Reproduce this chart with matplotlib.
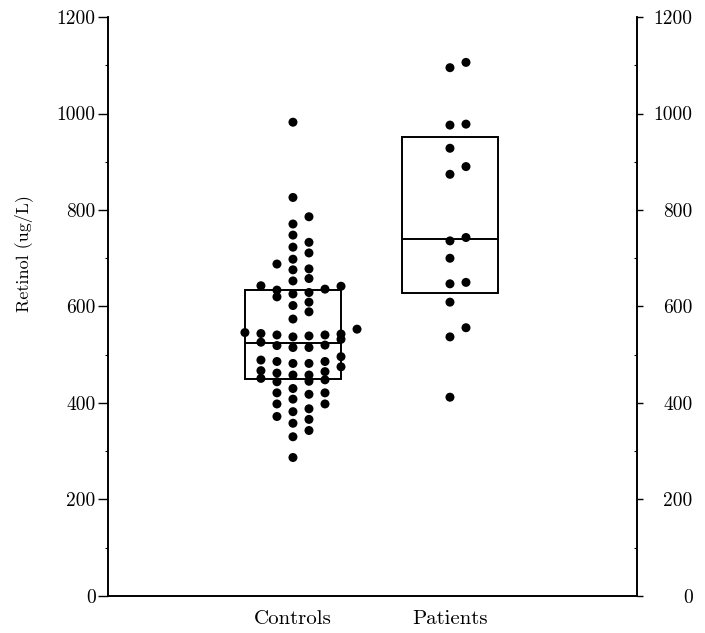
import matplotlib
matplotlib.use("Agg")
import matplotlib.pyplot as plt
from matplotlib.patches import Rectangle

plt.rcParams["font.family"] = ["cmr10", "DejaVu Serif"]
plt.rcParams["axes.formatter.use_mathtext"] = True

# values, grouped by the dot column they sit in
# (column 0 = group centre, +/-1 = one dot width to the right/left)
CONTROLS = {
    -3: [546],
    -2: [643, 544, 526, 489, 467, 451],
    -1: [688, 634, 620, 541, 519, 486, 462, 444, 421, 398, 372],
    0: [982, 826, 771, 748, 723, 698, 676, 653, 626, 602, 574, 537, 515,
        482, 458, 430, 408, 382, 358, 330, 287],
    1: [786, 733, 711, 678, 658, 629, 609, 589, 539, 515, 482, 458, 445,
        418, 388, 366, 343],
    2: [636, 541, 520, 486, 465, 448, 421, 398],
    3: [642, 543, 532, 496, 475],
    4: [553],
}
PATIENTS = {
    0: [1095, 976, 928, 874, 736, 700, 647, 609, 537, 412],
    1: [1106, 978, 890, 743, 650, 556],
}

groups = ["Controls", "Patients"]
box_q1 = [450, 629]
box_med = [525, 739]
box_q3 = [634, 952]

y_ticks = [0, 200, 400, 600, 800, 1000, 1200]

COL_STEP = 0.102   # horizontal offset between dot columns
BOX_HALF = 0.306


def main():
    fig = plt.figure(figsize=(7.05, 6.33), dpi=100)
    ax = fig.add_axes([0.1532, 0.0585, 0.7503, 0.9146])

    for i, cols in enumerate([CONTROLS, PATIENTS]):
        xc = i + 1
        for c, vals in cols.items():
            ax.scatter([xc + c * COL_STEP] * len(vals), vals, s=42,
                       color="black", edgecolors="none", zorder=3)
        ax.add_patch(Rectangle((xc - BOX_HALF, box_q1[i]), 2 * BOX_HALF,
                               box_q3[i] - box_q1[i], fill=False,
                               edgecolor="black", lw=1.4, zorder=2))
        ax.plot([xc - BOX_HALF, xc + BOX_HALF], [box_med[i], box_med[i]],
                color="black", lw=1.4, zorder=2)

    ax.set_xlim(-0.178, 3.191)
    ax.set_ylim(0, 1200)
    ax.set_xticks([1, 2], groups, fontsize=15)
    ax.tick_params(axis="x", length=0, pad=10)
    ax.set_yticks(y_ticks, [str(v) for v in y_ticks], fontsize=14)
    ax.set_yticks(range(100, 1200, 200), minor=True)
    ax.tick_params(axis="y", which="major", direction="out", length=7,
                   width=1, pad=2)
    ax.tick_params(axis="y", which="minor", direction="out", length=2.5,
                   width=0.8)

    ax2 = ax.twinx()
    ax2.set_ylim(0, 1200)
    ax2.set_yticks(y_ticks, [str(v) for v in y_ticks], fontsize=14)
    ax2.set_yticks(range(100, 1200, 200), minor=True)
    ax2.tick_params(axis="y", which="major", direction="out", length=4,
                    width=1, pad=36)
    ax2.tick_params(axis="y", which="minor", direction="in", length=2.5,
                    width=0.8)
    for t in ax2.get_yticklabels():
        t.set_horizontalalignment("right")

    for a in (ax, ax2):
        a.spines["top"].set_visible(False)
        for s in ("left", "right", "bottom"):
            a.spines[s].set_linewidth(1.2)

    ax.set_ylabel("Retinol (ug/L)", fontsize=13)
    ax.yaxis.set_label_coords(-0.142, 0.592)

    fig.savefig("out.png", dpi=100)
    plt.close(fig)


if __name__ == "__main__":
    main()
